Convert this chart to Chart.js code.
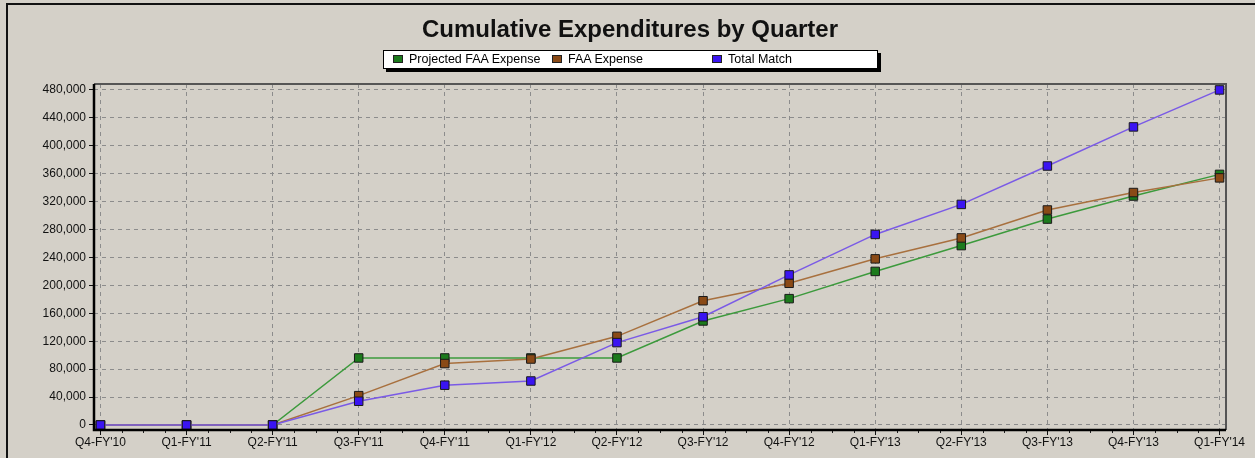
<!DOCTYPE html>
<html><head><meta charset="utf-8">
<script src="https://cdn.jsdelivr.net/npm/chart.js@4.4.1/dist/chart.umd.min.js"></script>
<style>
html,body{margin:0;padding:0;background:#d4d0c8;}
#wrap{position:relative;width:1255px;height:458px;overflow:hidden;background:#d4d0c8;}
#frameline{position:absolute;left:6px;top:3px;width:1260px;height:470px;border-left:2px solid #111;border-top:2px solid #111;}
canvas{position:absolute;left:0;top:0;}
#title{position:absolute;left:0;width:1260px;top:15px;text-align:center;font:bold 24px "Liberation Sans",Arial,sans-serif;color:#111;}
#legend{position:absolute;left:383px;top:50px;width:493px;height:17px;background:#fff;border:1px solid #000;box-shadow:3px 3px 0 #000;font:12.5px "Liberation Sans",Arial,sans-serif;color:#000;}
.li{position:absolute;top:1px;line-height:15px;white-space:nowrap;}
.sw{display:inline-block;width:8px;height:6px;border:1px solid #222;margin-right:6px;vertical-align:0px;}
</style></head>
<body>
<div id="wrap">
<div id="frameline"></div>
<canvas id="c" width="1255" height="458"></canvas>
<div id="title">Cumulative Expenditures by Quarter</div>
<div id="legend"></div>
</div>
<script>
const categories = ["Q4-FY'10","Q1-FY'11","Q2-FY'11","Q3-FY'11","Q4-FY'11","Q1-FY'12","Q2-FY'12","Q3-FY'12","Q4-FY'12","Q1-FY'13","Q2-FY'13","Q3-FY'13","Q4-FY'13","Q1-FY'14"];
const projectedFAA = [0,0,0,96000,96000,96000,96000,149000,181000,220000,257000,295000,328000,359000];
const faaExpense   = [0,0,0,42000,88000,94500,127000,178000,203000,238000,268000,308000,333000,354000];
const totalMatch   = [0,0,0,34000,57000,63000,118000,155000,215000,273000,316000,371000,427000,480000];
const yTicks = [0,40000,80000,120000,160000,200000,240000,280000,320000,360000,400000,440000,480000];

const seriesNames = ["Projected FAA Expense","FAA Expense","Total Match"];
const markerColors = ["#1c7a1c","#8a4a16","#3a14f2"];
const lineColors = ["#3c9a3c","#a8703e","#7a5ae6"];
const seriesData = [projectedFAA, faaExpense, totalMatch];

const lg = document.getElementById('legend');
const legendLeft = [9,168,328];
seriesNames.forEach((n,i)=>{
  const d=document.createElement('div'); d.className='li'; d.style.left=legendLeft[i]+'px';
  d.innerHTML='<span class="sw" style="background:'+markerColors[i]+'"></span>'+n;
  lg.appendChild(d);
});

const frame = {
  id:'frame',
  afterDraw(chart){
    const {ctx, chartArea:a, scales} = chart;
    ctx.save();
    ctx.strokeStyle='#222'; ctx.lineWidth=1;
    const xs=scales.x;
    for(let i=0;i<categories.length-1;i++){
      for(let k=1;k<4;k++){
        const px=Math.round(xs.getPixelForValue(i+k/4))+0.5;
        ctx.beginPath(); ctx.moveTo(px,a.bottom); ctx.lineTo(px,a.bottom+3); ctx.stroke();
      }
    }
    ctx.strokeStyle='#555'; ctx.lineWidth=2;
    ctx.beginPath(); ctx.moveTo(a.left,a.top); ctx.lineTo(a.right,a.top); ctx.lineTo(a.right,a.bottom); ctx.stroke();
    ctx.strokeStyle='#000'; ctx.lineWidth=2.5;
    ctx.beginPath(); ctx.moveTo(a.left,a.top); ctx.lineTo(a.left,a.bottom); ctx.lineTo(a.right,a.bottom); ctx.stroke();
    ctx.restore();
  }
};

const tickFont = {family:'"Liberation Sans", Arial, sans-serif',size:12};
new Chart(document.getElementById('c'), {
  type:'line',
  data:{
    datasets: seriesData.map((arr,i)=>({
      label:seriesNames[i],
      data:arr.map((v,j)=>({x:j,y:v})),
      borderColor:lineColors[i],
      backgroundColor:markerColors[i],
      pointBackgroundColor:markerColors[i],
      pointBorderColor:'#1a1a1a',
      pointBorderWidth:1,
      pointStyle:'rect',
      pointRadius:6,
      borderWidth:1.5,
      tension:0,
      order:3-i
    }))
  },
  options:{
    responsive:false, animation:false,
    layout:{padding:{top:84,right:29,left:0,bottom:0}},
    plugins:{legend:{display:false},title:{display:false},tooltip:{enabled:false}},
    scales:{
      x:{type:'linear',min:-0.075,max:categories.length-1+0.075,
        afterBuildTicks(s){s.ticks=categories.map((c,i)=>({value:i}));},
        afterFit(s){s.height=28;},
        ticks:{autoSkip:false,maxRotation:0,padding:0,color:'#111',font:tickFont,
          callback:(v)=>categories[v]},
        grid:{color:'#8c8c8c',tickColor:'#111',tickBorderDash:[],tickLength:5,lineWidth:1},
        border:{display:false,dash:[4,4]}
      },
      y:{min:-7200,max:488500,
        afterBuildTicks(s){s.ticks=yTicks.map(v=>({value:v}));},
        afterFit(s){s.width=94;},
        ticks:{padding:3,color:'#111',font:tickFont,
          callback:(v)=>v.toLocaleString('en-US')},
        grid:{color:'#8c8c8c',tickColor:'#111',tickBorderDash:[],tickLength:5,lineWidth:1},
        border:{display:false,dash:[4,4]}
      }
    }
  },
  plugins:[frame]
});
</script>
</body></html>
